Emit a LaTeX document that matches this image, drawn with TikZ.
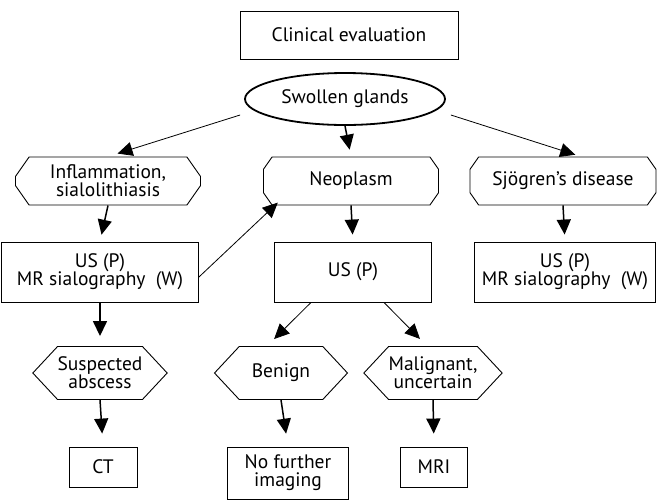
\documentclass[tikz,border=0pt]{standalone}
\usepackage{fontspec}
\setmainfont{PT Sans}
\usetikzlibrary{arrows.meta, shapes.geometric, shapes.misc, shapes.symbols, calc}
\tikzset{
    box/.style={
        draw,
        line width=0.9pt,
        align=center,
        inner sep=2pt
    },
    oval/.style={
        draw,
        ellipse,
        line width=1.8pt,
        align=center
    },
    octa/.style={
        draw,
        chamfered rectangle,
        chamfered rectangle angle=35,
        chamfered rectangle xsep=21pt,
        line width=0.9pt,
        align=center,
        inner sep=0pt
    },
    hexa/.style={
        draw,
        signal,
        signal to=west and east,
        signal pointer angle=94,
        line width=0.9pt,
        align=center,
        inner sep=0pt
    },
    line/.style={-{Triangle[length=15pt,width=14pt]}, line width=1.5pt},
    thinline/.style={-{Triangle[length=15pt,width=14pt]}, line width=0.8pt},
    every node/.style={font=\fontsize{19.5}{21}\selectfont}
}

\begin{document}
\begin{tikzpicture}[x=1pt,y=-1pt]
\useasboundingbox (0,0) rectangle (659,499);

% top
\node[box, minimum width=218pt, minimum height=48pt] (clin) at (349,35) {Clinical evaluation};
\node[oval, minimum width=200pt, minimum height=52pt] (swollen) at (345,99) {Swollen glands};

% findings
\node[octa, minimum width=185pt, minimum height=48pt] (inflam) at (108,181) {Inflammation,\\[-3pt]sialolithiasis};
\node[octa, minimum width=175pt, minimum height=48pt] (neo) at (351,181) {Neoplasm};
\node[octa, minimum width=186pt, minimum height=48pt] (sjo) at (563,181) {Sj\"ogren's disease};

% imaging
\node[box, minimum width=197pt, minimum height=60pt] (lbox) at (100,272) {US (P)\\[-3pt]MR sialography~~(W)};
\node[box, minimum width=157pt, minimum height=60pt] (usp) at (353,272) {US (P)};
\node[box, minimum width=181pt, minimum height=60pt] (rbox) at (565,272) {US (P)\\[-3pt]MR sialography~~(W)};

% decisions
\node[hexa, minimum width=133pt, minimum height=53pt] (abscess) at (100,373) {Suspected\\[-3pt]abscess};
\node[hexa, minimum width=133pt, minimum height=53pt] (benign) at (281,373) {Benign};
\node[hexa, minimum width=134pt, minimum height=53pt] (malig) at (433,373) {Malignant,\\[-3pt]uncertain};

% results
\node[box, minimum width=68pt, minimum height=40pt] (ct) at (103,467) {CT};
\node[box, minimum width=121pt, minimum height=52pt] (nofur) at (288,473) {No further\\[-3pt]imaging};
\node[box, minimum width=67pt, minimum height=40pt] (mri) at (434,467) {MRI};

% arrows
\draw[thinline, shorten >=10pt] ($(swollen.west)+(-4,16)$) -- (inflam.north);
\draw[line, shorten >=7pt] (swollen.south) -- (neo.north);
\draw[thinline, shorten >=6pt] ($(swollen.east)+(5,16)$) -- ($(sjo.north)+(18,0)$);

\draw[line, shorten >=7pt] (inflam.south) -- (lbox.north);
\draw[line, shorten >=7pt] (neo.south) -- (usp.north);
\draw[line, shorten >=7pt] (sjo.south) -- (rbox.north);

\draw[thinline, shorten >=5pt] ($(lbox.east)+(0,5)$) -- ($(neo.south west)+(14,0)$);

\draw[line, shorten >=10pt] (lbox.south) -- (abscess.north);
\draw[thinline, shorten >=10pt] ($(usp.south)+(-42,0)$) -- ($(benign.north)+(-14,0)$);
\draw[thinline, shorten >=10pt] ($(usp.south)+(31,0)$) -- ($(malig.north)+(-6,0)$);

\draw[line, shorten >=13pt] (abscess.south) -- (ct.north);
\draw[line, shorten >=13pt] (benign.south) -- (nofur.north);
\draw[line, shorten >=13pt] (malig.south) -- (mri.north);
\end{tikzpicture}
\end{document}
